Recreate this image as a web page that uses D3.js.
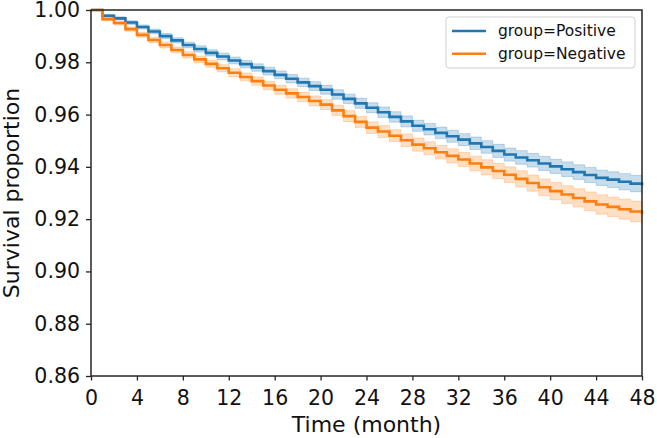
<!DOCTYPE html>
<html>
<head>
<meta charset="utf-8">
<script src="https://cdn.jsdelivr.net/npm/d3@7"></script>
<style>
  html, body { margin: 0; padding: 0; background: #fff; }
  svg { display: block; font-family: "DejaVu Sans", sans-serif; }
</style>
</head>
<body>
<svg id="chart" width="657" height="438"></svg>
<script>
// ---- data ----
const months = [0,1,2,3,4,5,6,7,8,9,10,11,12,13,14,15,16,17,18,19,20,21,22,23,24,25,26,27,28,29,30,31,32,33,34,35,36,37,38,39,40,41,42,43,44,45,46,47,48];

const positiveSurv = [1.0000,0.9978,0.9968,0.9952,0.9935,0.9918,0.9900,0.9884,0.9866,0.9851,0.9836,0.9822,0.9807,0.9793,0.9780,0.9766,0.9752,0.9737,0.9723,0.9709,0.9695,0.9677,0.9660,0.9643,0.9626,0.9609,0.9591,0.9574,0.9557,0.9544,0.9530,0.9517,0.9504,0.9490,0.9476,0.9461,0.9447,0.9436,0.9425,0.9413,0.9402,0.9391,0.9380,0.9369,0.9358,0.9351,0.9343,0.9336,0.9329];
const positiveLower = [1.0000,0.9973,0.9962,0.9945,0.9927,0.9909,0.9890,0.9874,0.9855,0.9839,0.9824,0.9809,0.9794,0.9779,0.9766,0.9751,0.9737,0.9721,0.9707,0.9692,0.9678,0.9659,0.9642,0.9624,0.9607,0.9589,0.9571,0.9553,0.9536,0.9522,0.9508,0.9494,0.9481,0.9466,0.9452,0.9436,0.9422,0.9410,0.9399,0.9386,0.9375,0.9363,0.9352,0.9340,0.9329,0.9321,0.9312,0.9305,0.9297];
const positiveUpper = [1.0000,0.9983,0.9974,0.9959,0.9943,0.9927,0.9910,0.9894,0.9877,0.9863,0.9848,0.9835,0.9820,0.9807,0.9794,0.9781,0.9767,0.9753,0.9739,0.9726,0.9712,0.9695,0.9678,0.9662,0.9645,0.9629,0.9611,0.9595,0.9578,0.9566,0.9552,0.9540,0.9527,0.9514,0.9500,0.9486,0.9472,0.9462,0.9451,0.9440,0.9429,0.9419,0.9408,0.9398,0.9387,0.9381,0.9374,0.9367,0.9361];

const negativeSurv = [1.0000,0.9965,0.9950,0.9927,0.9905,0.9885,0.9866,0.9847,0.9828,0.9811,0.9794,0.9777,0.9760,0.9744,0.9728,0.9711,0.9695,0.9681,0.9667,0.9652,0.9638,0.9616,0.9594,0.9572,0.9550,0.9535,0.9519,0.9502,0.9485,0.9471,0.9456,0.9442,0.9428,0.9413,0.9398,0.9384,0.9370,0.9354,0.9338,0.9322,0.9307,0.9294,0.9281,0.9268,0.9256,0.9247,0.9238,0.9229,0.9220];
const negativeLower = [1.0000,0.9959,0.9943,0.9919,0.9896,0.9875,0.9855,0.9836,0.9816,0.9798,0.9781,0.9763,0.9745,0.9729,0.9712,0.9695,0.9678,0.9663,0.9649,0.9633,0.9619,0.9596,0.9573,0.9551,0.9528,0.9512,0.9496,0.9478,0.9460,0.9446,0.9430,0.9415,0.9401,0.9385,0.9369,0.9355,0.9340,0.9323,0.9307,0.9290,0.9274,0.9260,0.9246,0.9232,0.9219,0.9210,0.9200,0.9190,0.9180];
const negativeUpper = [1.0000,0.9971,0.9957,0.9935,0.9914,0.9895,0.9877,0.9858,0.9840,0.9824,0.9807,0.9791,0.9775,0.9759,0.9744,0.9727,0.9712,0.9699,0.9685,0.9671,0.9657,0.9636,0.9615,0.9593,0.9572,0.9558,0.9542,0.9526,0.9510,0.9496,0.9482,0.9469,0.9455,0.9441,0.9427,0.9413,0.9400,0.9385,0.9369,0.9354,0.9340,0.9328,0.9316,0.9304,0.9293,0.9284,0.9276,0.9268,0.9260];

const xTicks = [0,4,8,12,16,20,24,28,32,36,40,44,48];
const yTicks = [0.86,0.88,0.90,0.92,0.94,0.96,0.98,1.00];
const seriesNames = ["group=Positive", "group=Negative"];
const seriesColors = ["#1f77b4", "#ff7f0e"];

// ---- layout ----
const W = 657, H = 438;
const margin = {left: 91, right: 15, top: 10, bottom: 62};
const iw = W - margin.left - margin.right;
const ih = H - margin.top - margin.bottom;

const svg = d3.select("#chart");
const g = svg.append("g").attr("transform", `translate(${margin.left},${margin.top})`);

const x = d3.scaleLinear().domain([0, 48]).range([0, iw]);
const y = d3.scaleLinear().domain([0.86, 1.00]).range([ih, 0]);

const series = [
  {surv: positiveSurv, lo: positiveLower, hi: positiveUpper},
  {surv: negativeSurv, lo: negativeLower, hi: negativeUpper}
];

series.forEach((s, si) => {
  const pts = months.map((m, i) => ({t: m, v: s.surv[i], lo: s.lo[i], hi: s.hi[i]}));
  const area = d3.area().curve(d3.curveStepAfter)
    .x(d => x(d.t)).y0(d => y(d.lo)).y1(d => y(d.hi));
  g.append("path").datum(pts).attr("d", area)
    .attr("fill", seriesColors[si]).attr("fill-opacity", 0.25)
    .attr("stroke", seriesColors[si]).attr("stroke-opacity", 0.25).attr("stroke-width", 1);
  const line = d3.line().curve(d3.curveStepAfter).x(d => x(d.t)).y(d => y(d.v));
  g.append("path").datum(pts).attr("d", line)
    .attr("fill", "none").attr("stroke", seriesColors[si]).attr("stroke-width", 2.6);
});

// frame
g.append("rect").attr("x", 0).attr("y", 0).attr("width", iw).attr("height", ih)
  .attr("fill", "none").attr("stroke", "#262626").attr("stroke-width", 1.5);

// axes
const xAxis = g.append("g").attr("transform", `translate(0,${ih})`)
  .call(d3.axisBottom(x).tickValues(xTicks).tickFormat(d3.format("d")).tickSize(4.5).tickPadding(10));
const yAxis = g.append("g")
  .call(d3.axisLeft(y).tickValues(yTicks).tickFormat(d3.format(".2f")).tickSize(5).tickPadding(6));
[xAxis, yAxis].forEach(a => {
  a.select(".domain").remove();
  a.selectAll(".tick line").attr("stroke", "#262626").attr("stroke-width", 1.3);
  a.selectAll(".tick text").attr("fill", "#111").style("font-size", "20.5px").style("font-family", "DejaVu Sans");
});

// axis labels
svg.append("text").attr("x", margin.left + iw / 2).attr("y", 432)
  .attr("text-anchor", "middle").style("font-size", "22px").attr("fill", "#111")
  .text("Time (month)");
svg.append("text").attr("transform", `translate(19,${margin.top + ih / 2}) rotate(-90)`)
  .attr("text-anchor", "middle").style("font-size", "22px").attr("fill", "#111")
  .text("Survival proportion");

// legend
const lg = svg.append("g");
lg.append("rect").attr("x", 446).attr("y", 17).attr("width", 189).attr("height", 51)
  .attr("rx", 3).attr("fill", "#fff").attr("fill-opacity", 0.8)
  .attr("stroke", "#d0d0d0").attr("stroke-width", 1);
seriesNames.forEach((name, i) => {
  const yy = 31 + i * 22.7;
  lg.append("line").attr("x1", 452).attr("x2", 486).attr("y1", yy).attr("y2", yy)
    .attr("stroke", seriesColors[i]).attr("stroke-width", 2.6);
  lg.append("text").attr("x", 498).attr("y", yy).attr("dy", "0.35em")
    .style("font-size", "15.5px").attr("fill", "#111").text(name);
});
</script>
</body>
</html>
